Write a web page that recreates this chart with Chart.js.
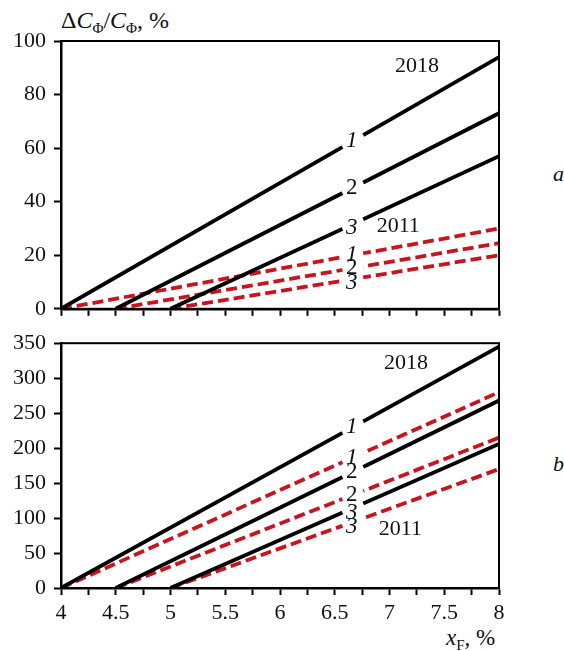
<!DOCTYPE html>
<html>
<head>
<meta charset="utf-8">
<script src="https://cdn.jsdelivr.net/npm/chart.js@4.4.0/dist/chart.umd.min.js"></script>
<style>
body{margin:0;width:564px;height:651px;background:#fff;position:relative;overflow:hidden;font-family:"Liberation Serif","Times New Roman",Times,serif;color:#111}
canvas{position:absolute;left:0}
#c1{top:0}
#c2{top:322px}
.t{position:absolute;font-size:22px;white-space:nowrap;line-height:1}
sub{font-size:15px;vertical-align:-5px;line-height:0}
</style>
</head>
<body>
<div class="t" style="left:61px;top:8px;font-size:24px">Δ<i>C</i><sub>Φ</sub>/<i>C</i><sub>Φ</sub>, %</div>
<div class="t" style="left:553px;top:163px"><i>a</i></div>
<div class="t" style="left:553px;top:453px"><i>b</i></div>
<div class="t" style="left:446px;top:626px;font-size:23px"><i>x</i><sub>F</sub>, %</div>
<canvas id="c1" width="564" height="330"></canvas>
<canvas id="c2" width="564" height="329"></canvas>
<script>
// line starts (x where the share is zero) and values at x = 8
var xStart = [4, 4.5, 5];
var xEnd = 8;
var topEnd2018 = [94, 73, 57];
var topEnd2011 = [30, 24.5, 20];
var botEnd2018 = [345, 268, 206];
var botEnd2011 = [280, 215, 170];
var curveNames = ['1', '2', '3'];

var RED = '#c8141e';
var FONT = '"Liberation Serif", "Times New Roman", Times, serif';

function makeDatasets(end2018, end2011){
    var ds = [];
    for(let i=0; i<3; i++){
        ds.push({
            data: [{x: xStart[i], y: 0}, {x: xEnd, y: end2018[i]}],
            borderColor: '#000', borderWidth: 3.8
        });
    }
    for(let i=0; i<3; i++){
        ds.push({
            data: [{x: xStart[i], y: 0}, {x: xEnd, y: end2011[i]}],
            borderColor: RED, borderWidth: 3.8, borderDash: [11, 5]
        });
    }
    return ds;
}

// labels sitting in a gap of each line
var gapFrom = 6.57, gapTo = 6.76;
function curveLabels(dy3){
    var out = [];
    for(let i=0; i<6; i++){
        out.push({ds: i, text: curveNames[i % 3], italic: (i % 3) != 1, dy: (i % 3) == 2 ? dy3 : 0});
    }
    return out;
}

var labelPlugin = {
    id: 'labels',
    afterDatasetsDraw: function(chart){
        var ctx = chart.ctx;
        var xs = chart.scales.x, ys = chart.scales.y;
        var cfg = chart.options.plugins.labels;
        var gx1 = xs.getPixelForValue(gapFrom), gx2 = xs.getPixelForValue(gapTo);
        var pos = [];
        ctx.save();
        cfg.curves.forEach(function(l){
            var pts = chart.getDatasetMeta(l.ds).data;
            var p0 = pts[0], p1 = pts[1];
            var yAt = function(px){ return p0.y + (p1.y - p0.y) * (px - p0.x) / (p1.x - p0.x); };
            ctx.strokeStyle = '#fff';
            ctx.lineWidth = 8;
            ctx.beginPath();
            ctx.moveTo(gx1, yAt(gx1));
            ctx.lineTo(gx2, yAt(gx2));
            ctx.stroke();
            var cx = (gx1 + gx2) / 2;
            pos.push({x: cx - 1, y: yAt(cx) + l.dy, l: l});
        });
        ctx.fillStyle = '#111';
        ctx.textAlign = 'center';
        ctx.textBaseline = 'middle';
        pos.forEach(function(p){
            ctx.font = (p.l.italic ? 'italic ' : '') + '23px ' + FONT;
            ctx.fillText(p.l.text, p.x, p.y);
        });
        ctx.font = '22px ' + FONT;
        cfg.years.forEach(function(y){
            ctx.fillText(y.text, xs.getPixelForValue(y.x), ys.getPixelForValue(y.y));
        });
        // frame
        var a = chart.chartArea;
        ctx.strokeStyle = '#000';
        ctx.lineWidth = 2;
        ctx.strokeRect(a.left, a.top, a.right - a.left, a.bottom - a.top);
        ctx.restore();
    }
};

function makeOptions(yMax, yStep, showX, canvasH, top, bottom, labels){
    return {
        responsive: false,
        animation: false,
        layout: {padding: {left: 0, right: 65, top: top, bottom: 0}},
        elements: {point: {radius: 0}, line: {tension: 0}},
        plugins: {legend: {display: false}, tooltip: {enabled: false}, labels: labels},
        scales: {
            x: {
                type: 'linear', min: 4, max: 8,
                afterFit: function(s){ s.height = canvasH - bottom; },
                border: {display: true, color: '#000', width: 2.5},
                grid: {drawOnChartArea: false, drawTicks: true, tickLength: 7, tickWidth: 2, tickColor: '#000'},
                ticks: {
                    stepSize: 0.25, autoSkip: false, maxRotation: 0, padding: 5,
                    color: '#111', font: {family: FONT, size: 22},
                    callback: function(v){
                        if(!showX) return '';
                        return Math.abs(v * 2 - Math.round(v * 2)) < 1e-6 ? String(v) : '';
                    }
                }
            },
            y: {
                min: 0, max: yMax,
                afterFit: function(s){ s.width = 61; },
                border: {display: true, color: '#000', width: 2.5},
                grid: {drawOnChartArea: false, drawTicks: true, tickLength: 7, tickWidth: 2, tickColor: '#000'},
                ticks: {stepSize: yStep, padding: 8, color: '#111', font: {family: FONT, size: 22}}
            }
        }
    };
}

new Chart(document.getElementById('c1'), {
    type: 'line',
    data: {datasets: makeDatasets(topEnd2018, topEnd2011)},
    options: makeOptions(100, 20, false, 330, 41, 309, {
        curves: curveLabels(4),
        years: [{text: '2018', x: 7.25, y: 90.5}, {text: '2011', x: 7.08, y: 31}]
    }),
    plugins: [labelPlugin]
});

new Chart(document.getElementById('c2'), {
    type: 'line',
    data: {datasets: makeDatasets(botEnd2018, botEnd2011)},
    options: makeOptions(350, 50, true, 329, 17, 266, {
        curves: curveLabels(5),
        years: [{text: '2018', x: 7.15, y: 322}, {text: '2011', x: 7.1, y: 84}]
    }),
    plugins: [labelPlugin]
});
</script>
</body>
</html>
